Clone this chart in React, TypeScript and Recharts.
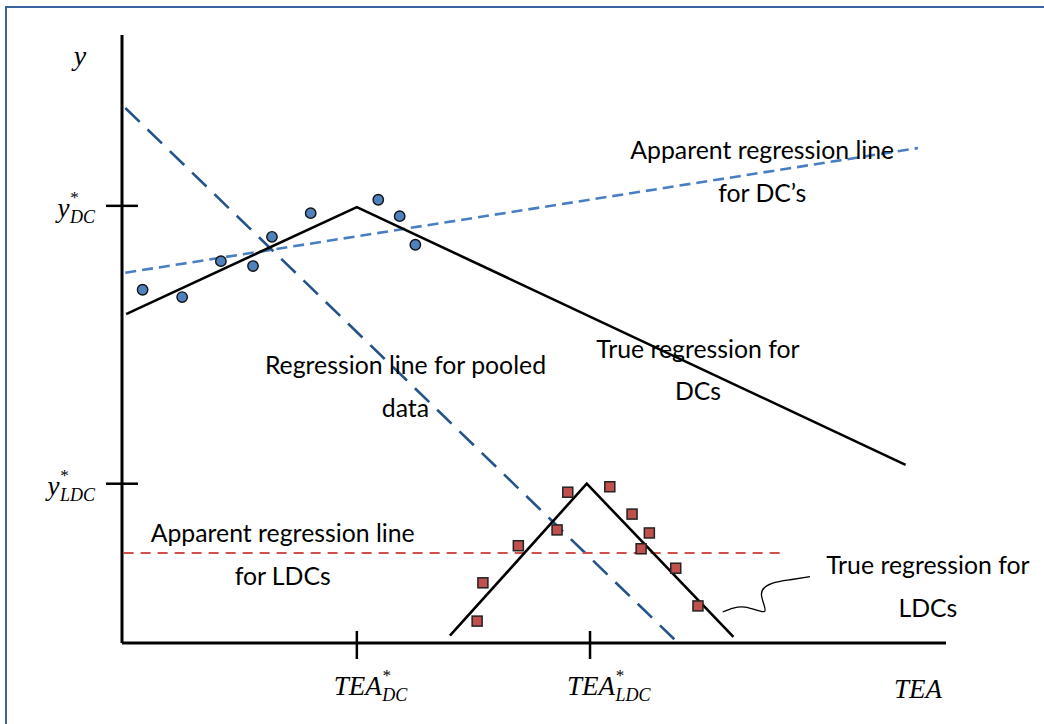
import React from 'react';
import { ComposedChart, Line, Scatter, XAxis, YAxis, ReferenceDot } from 'recharts';

// Conceptual units: x (TEA) 0..100, y 0..100
const dcTrueLine = [
  { x: 0.5, y: 54.1 },
  { x: 28.5, y: 71.7 },
  { x: 95.1, y: 29.3 },
];
const pooledLine = [
  { x: 0.4, y: 88.0 },
  { x: 67.5, y: 0 },
];
const dcApparentLine = [
  { x: 0.4, y: 60.9 },
  { x: 96.6, y: 81.4 },
];
const ldcTrueLine = [
  { x: 39.8, y: 1.2 },
  { x: 56.4, y: 26.2 },
  { x: 74.2, y: 1.0 },
];
const ldcApparentLine = [
  { x: 0.2, y: 14.8 },
  { x: 80.1, y: 14.8 },
];
const dcPoints = [
  { x: 2.5, y: 58.1 },
  { x: 7.3, y: 56.9 },
  { x: 12.0, y: 62.8 },
  { x: 15.9, y: 62.0 },
  { x: 18.2, y: 66.8 },
  { x: 22.9, y: 70.7 },
  { x: 31.1, y: 72.9 },
  { x: 33.7, y: 70.2 },
  { x: 35.6, y: 65.5 },
];
const ldcPoints = [
  { x: 43.1, y: 3.6 },
  { x: 43.8, y: 9.9 },
  { x: 48.1, y: 16.0 },
  { x: 52.8, y: 18.6 },
  { x: 54.1, y: 24.8 },
  { x: 59.2, y: 25.7 },
  { x: 61.9, y: 21.2 },
  { x: 64.0, y: 18.1 },
  { x: 63.0, y: 15.5 },
  { x: 67.2, y: 12.3 },
  { x: 69.9, y: 6.1 },
];
const connector = [
  { x: 72.9, y: 5.1 },
  { x: 75.6, y: 5.9 },
  { x: 78.0, y: 5.2 },
  { x: 77.6, y: 8.0 },
  { x: 78.9, y: 9.8 },
  { x: 81.1, y: 10.4 },
  { x: 83.5, y: 10.9 },
];

const xTickLabels = [
  { value: 28.5, main: 'TEA', sub: 'DC', star: true, mark: true },
  { value: 56.8, main: 'TEA', sub: 'LDC', star: true, mark: true },
  { value: 96.6, main: 'TEA', sub: '', star: false, mark: false },
];
const yTickLabels = [
  { value: 95.9, main: 'y', sub: '', star: false, mark: false },
  { value: 71.9, main: 'y', sub: 'DC', star: true, mark: true },
  { value: 26.2, main: 'y', sub: 'LDC', star: true, mark: true },
];

const annotations = [
  { x: 77.7, y: 79.6, lines: ['Apparent regression line', 'for DC\u2019s'] },
  { x: 34.4, y: 44.2, lines: ['Regression line for pooled', 'data'] },
  { x: 69.9, y: 46.9, lines: ['True regression for', 'DCs'] },
  { x: 19.5, y: 16.6, lines: ['Apparent regression line', 'for LDCs'] },
  { x: 97.8, y: 11.3, lines: ['True regression for', 'LDCs'] },
];

const MATH_FONT = '"Liberation Serif", "DejaVu Serif", serif';
const TEXT_FONT = 'Lato, "Open Sans", sans-serif';

const XTick = (props: any) => {
  const { x, y, payload } = props;
  const t = xTickLabels.find((d) => Math.abs(d.value - payload.value) < 1e-6);
  if (!t) return null;
  return (
    <g>
      {t.mark && <line x1={x} x2={x} y1={y - 12} y2={y + 16} stroke="#000" strokeWidth={2.5} />}
      {t.star ? (
        <text x={x - 23} y={y + 52} fontFamily={MATH_FONT} fontStyle="italic" fontSize={27} fill="#000" stroke="none">
          {t.main}
          <tspan fontSize={17} dy={-14} fill="#000">*</tspan>
          <tspan fontSize={18} dx={-8} dy={20} fill="#000">{t.sub}</tspan>
        </text>
      ) : (
        <text x={x} y={y + 55} textAnchor="middle" fontFamily={MATH_FONT} fontStyle="italic" fontSize={27} fill="#000" stroke="none">
          {t.main}
        </text>
      )}
    </g>
  );
};

const YTick = (props: any) => {
  const { x, y, payload } = props;
  const t = yTickLabels.find((d) => Math.abs(d.value - payload.value) < 1e-6);
  if (!t) return null;
  return (
    <g>
      {t.mark && <line x1={x - 16} x2={x + 16} y1={y} y2={y} stroke="#000" strokeWidth={2.5} />}
      {t.star ? (
        <text x={x - 27} y={y + 11} textAnchor="end" fontFamily={MATH_FONT} fontStyle="italic" fontSize={27} fill="#000" stroke="none">
          {t.main}
          <tspan fontSize={17} dy={-14} fill="#000">*</tspan>
          <tspan fontSize={18} dx={-8} dy={20} fill="#000">{t.sub}</tspan>
        </text>
      ) : (
        <text x={x - 42} y={y + 5} textAnchor="middle" fontFamily={MATH_FONT} fontStyle="italic" fontSize={28} fill="#000" stroke="none">
          {t.main}
        </text>
      )}
    </g>
  );
};

const DcDot = (p: any) => (
  <circle cx={p.cx} cy={p.cy} r={5.2} fill="#4F81BD" stroke="#111" strokeWidth={1.4} />
);
const LdcSquare = (p: any) => (
  <rect x={p.cx - 5} y={p.cy - 5} width={10} height={10} fill="#C0504D" stroke="#222" strokeWidth={1.5} />
);

const makeAnnot = (lines: string[]) => (p: any) => (
  <g>
    {lines.map((s, i) => (
      <text
        key={i}
        x={p.cx}
        y={p.cy + i * 42.5}
        textAnchor="middle"
        fontFamily={TEXT_FONT}
        fontSize={24.8}
        fill="#000"
      >
        {s}
      </text>
    ))}
  </g>
);

export default function App() {
  return (
    <div style={{ position: 'fixed', left: 0, top: 0, width: 1044, height: 724, overflow: 'hidden', background: '#fff' }}>
      <div
        style={{
          position: 'absolute',
          left: 5,
          top: 6,
          width: 1100,
          height: 800,
          border: '2.5px solid #3A62A0',
          boxSizing: 'border-box',
        }}
      />
      <div style={{ position: 'absolute', left: 0, top: 0 }}>
        <ComposedChart width={1044} height={724} margin={{ top: 35, right: 98, bottom: 51, left: 62 }}>
          <XAxis
            dataKey="x"
            type="number"
            domain={[0, 100]}
            ticks={xTickLabels.map((d) => d.value)}
            tick={<XTick />}
            tickLine={false}
            tickSize={0}
            tickMargin={0}
            height={30}
            axisLine={{ stroke: '#000', strokeWidth: 3 }}
            interval={0}
          />
          <YAxis
            dataKey="y"
            type="number"
            domain={[0, 100]}
            ticks={yTickLabels.map((d) => d.value)}
            tick={<YTick />}
            tickLine={false}
            tickSize={0}
            tickMargin={0}
            width={60}
            axisLine={{ stroke: '#000', strokeWidth: 3 }}
            interval={0}
          />
          <Line data={dcApparentLine} dataKey="y" type="linear" stroke="#4A7EC2" strokeWidth={2.6} strokeDasharray="11 6" dot={false} activeDot={false} isAnimationActive={false} />
          <Line data={pooledLine} dataKey="y" type="linear" stroke="#24538A" strokeWidth={2.6} strokeDasharray="20 11" dot={false} activeDot={false} isAnimationActive={false} />
          <Line data={ldcApparentLine} dataKey="y" type="linear" stroke="#D0504F" strokeWidth={2.2} strokeDasharray="10 7" dot={false} activeDot={false} isAnimationActive={false} />
          <Line data={dcTrueLine} dataKey="y" type="linear" stroke="#000" strokeWidth={2.6} dot={false} activeDot={false} isAnimationActive={false} />
          <Line data={ldcTrueLine} dataKey="y" type="linear" stroke="#000" strokeWidth={2.6} dot={false} activeDot={false} isAnimationActive={false} />
          <Line data={connector} dataKey="y" type="natural" stroke="#000" strokeWidth={1.3} dot={false} activeDot={false} isAnimationActive={false} />
          <Scatter data={dcPoints} dataKey="y" shape={<DcDot />} isAnimationActive={false} />
          <Scatter data={ldcPoints} dataKey="y" shape={<LdcSquare />} isAnimationActive={false} />
          {annotations.map((a, i) => (
            <ReferenceDot key={i} x={a.x} y={a.y} r={0} ifOverflow="visible" shape={makeAnnot(a.lines)} />
          ))}
        </ComposedChart>
      </div>
    </div>
  );
}
